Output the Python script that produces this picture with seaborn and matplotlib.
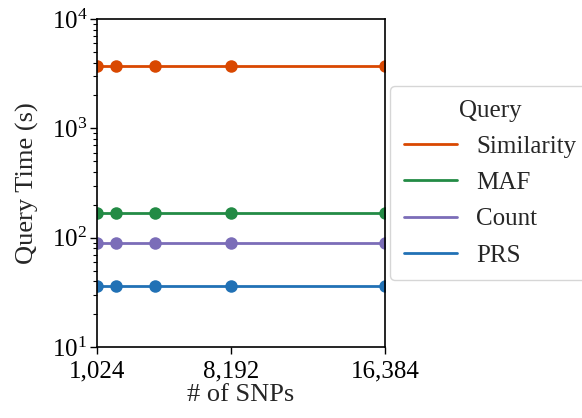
import matplotlib
matplotlib.use("Agg")
import matplotlib.pyplot as plt
import matplotlib.ticker as mticker
from matplotlib.lines import Line2D
import seaborn as sns
import pandas as pd

snps = [1024, 2048, 4096, 8192, 16384]
queries = ["Similarity", "MAF", "Count", "PRS"]
times = {
    "Similarity": [3700, 3700, 3700, 3700, 3700],
    "MAF": [168, 168, 168, 168, 168],
    "Count": [89, 89, 89, 89, 89],
    "PRS": [36.5, 36.5, 36.5, 36.5, 36.5],
}
colors = ["#d94801", "#238b45", "#7b6db8", "#2171b5"]
xticks = [1024, 8192, 16384]

rows = []
for q in queries:
    for x, t in zip(snps, times[q]):
        rows.append({"SNPs": x, "Time": t, "Query": q})
df = pd.DataFrame(rows)

sns.set_style("ticks")
plt.rcParams["font.family"] = ["Liberation Serif", "DejaVu Serif"]
plt.rcParams["mathtext.fontset"] = "stix"

fs = 18
fig = plt.figure(figsize=(5.82, 4.18), dpi=100)
ax = fig.add_axes([0.1667, 0.1699, 0.4948, 0.7846])

palette = dict(zip(queries, colors))
sns.lineplot(data=df, x="SNPs", y="Time", hue="Query", hue_order=queries,
             palette=palette, marker="o", markersize=9, markeredgewidth=0,
             linewidth=2, legend=False, ax=ax)

ax.set_yscale("log")
ax.set_ylim(10, 10000)
ax.set_xlim(1024, 16384)
ax.set_xticks(xticks)
ax.xaxis.set_major_formatter(mticker.FuncFormatter(lambda v, p: f"{int(v):,}"))
ax.tick_params(axis="both", which="major", labelsize=fs, direction="out", length=5, width=1, colors="black", pad=2)
ax.tick_params(axis="x", which="major", pad=5)
ax.tick_params(axis="y", which="minor", length=3, width=0.8, colors="black")
for s in ax.spines.values():
    s.set_visible(True)
    s.set_color("black")
    s.set_linewidth(1.2)
ax.set_xlabel("# of SNPs", fontsize=19, labelpad=1)
ax.set_ylabel("Query Time (s)", fontsize=19, labelpad=9)

handles = [Line2D([], [], color=c, linewidth=2) for c in colors]
leg = ax.legend(handles, queries, title="Query", loc="center left",
                bbox_to_anchor=(1.0, 0.5), fontsize=fs, title_fontsize=fs,
                frameon=True, handlelength=2.15, handletextpad=0.75,
                labelspacing=0.55, borderpad=0.55, borderaxespad=0.2)
leg.get_frame().set_edgecolor("#cccccc")

fig.savefig("out.png", dpi=100)
